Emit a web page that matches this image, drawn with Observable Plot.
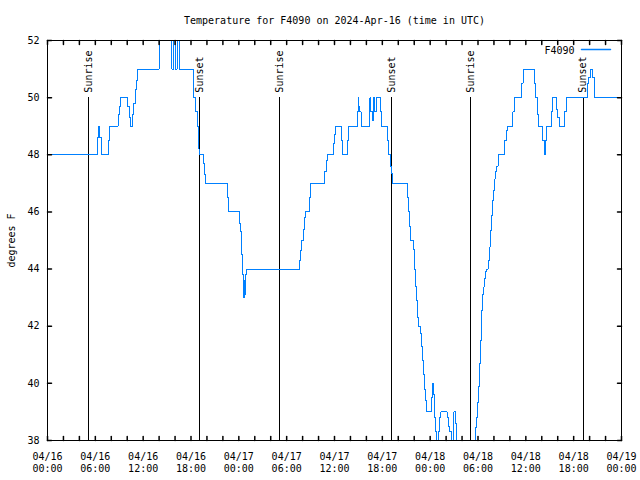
<!DOCTYPE html>
<html><head><meta charset="utf-8">
<script src="https://cdn.jsdelivr.net/npm/d3@7"></script>
<script src="https://cdn.jsdelivr.net/npm/@observablehq/plot@0.6"></script>
<style>body{margin:0;background:#fff} svg{display:block}</style>
</head><body><div id="chart"></div>
<script>
const title = "Temperature for F4090 on 2024-Apr-16 (time in UTC)";
const seriesName = "F4090";
const yLabel = "degrees F";
const startUTC = "2024-04-16T00:00:00Z";
const endUTC = "2024-04-19T00:00:00Z";

// hours since 2024-04-16 00:00 UTC, and temperature (F) from that time on
const hours = [0,6.30,6.42,6.55,6.72,7.60,7.72,8.85,9.00,9.20,10.06,10.25,10.45,10.65,10.85,11.00,11.15,11.27,14.02,14.15,15.60,15.80,16.05,16.25,16.50,18.30,18.60,18.85,19.00,19.10,19.57,19.75,19.87,22.60,22.75,24.10,24.21,24.33,24.46,24.55,24.65,24.75,24.85,24.95,31.64,31.77,31.89,32.06,32.22,32.35,32.85,32.97,34.73,34.94,35.10,35.86,36.00,36.12,36.90,37.00,37.60,37.75,38.86,38.95,39.05,39.15,39.35,40.45,40.57,40.78,40.90,41.07,41.28,41.74,41.90,42.60,42.75,43.00,43.15,43.30,45.12,45.29,45.41,45.54,45.87,46.00,46.12,46.29,46.41,46.54,46.79,46.87,47.00,47.12,47.25,47.37,47.54,48.17,48.25,48.40,48.55,48.70,48.80,49.00,49.20,49.34,50.13,50.34,50.46,50.67,50.88,50.96,51.18,51.30,53.68,53.80,53.93,54.05,54.14,54.26,54.39,54.51,54.64,54.76,54.89,55.01,55.26,55.39,55.51,55.64,55.76,55.89,56.01,56.14,56.31,56.52,57.35,57.56,57.68,58.39,58.60,59.44,59.65,61.10,61.27,61.44,61.57,62.15,62.32,62.44,62.57,63.19,63.36,63.82,64.03,64.24,64.86,65.07,67.79,67.91,68.05,68.30,68.60,72.00];
const tempsF = [48,48.6,49,48.6,48,48.5,49,49.4,49.7,50,49.7,49.3,49,49.4,49.8,50.3,50.6,51,52,53,51,53,51,53,51,50,49.5,49,48.2,48,47.7,47.3,47,46.5,46,45.6,45.3,44.5,43.8,43,43.6,43.1,43.8,44,44.3,44.65,45.0,45.4,45.8,46,46.5,47,47.4,47.8,48,48.4,48.7,49,48.5,48,48.5,49,49.5,50,49.7,49.5,49,50,49.5,49.2,50,49.5,50,49.5,49,48.5,48,47.6,47.35,47,46.5,46.0,45.5,45.0,44.7,44.0,43.4,42.9,42.3,42.0,41.75,41.3,40.8,40.3,39.8,39.4,39.0,39.5,40,39.6,38.8,38.3,37.5,38.3,38.8,39,38.8,38.5,38.3,37.5,38.5,39,38.6,37.5,38.47,38.8,39.34,39.9,40.7,41.5,42.55,43.1,43.37,43.67,43.9,44.0,44.3,44.77,45.35,45.87,46.4,46.75,47.15,47.4,47.6,48,48.5,48.85,49,49.5,50,50.5,51,50.5,50,49.4,49,48.5,48,48.5,49,49.5,50,49.6,49.3,49,49.5,50,50.5,50.7,51,50.7,50,50];

const sunHours = [5.18, 19.07, 29.09, 43.16, 53.10, 67.20];
const sunLabels = ["Sunrise", "Sunset", "Sunrise", "Sunset", "Sunrise", "Sunset"];
const sunLineTop = 50;

const yTicks = [38, 40, 42, 44, 46, 48, 50, 52];
const xLabelStepHours = 6;
const xTickStepHours = 2;

const t0 = Date.parse(startUTC);
const toDate = h => new Date(t0 + h * 3600000);
const start = new Date(startUTC), end = new Date(endUTC);

const series = hours.map((h, i) => ({t: toDate(h), v: tempsF[i]}));
const sun = sunHours.map((h, i) => ({t: toDate(h), label: sunLabels[i]}));
const xLabelTicks = d3.utcHour.every(xLabelStepHours).range(start, new Date(+end + 1));
const xMinorTicks = d3.utcHour.every(xTickStepHours).range(start, new Date(+end + 1));
const fmtDay = d3.utcFormat("%m/%d"), fmtTime = d3.utcFormat("%H:%M");

const tickShape = {draw(ctx, l) { ctx.moveTo(0, 0); ctx.lineTo(0, -l); }};
const lineColor = "#0080ff";
const tickLen = 4;

const chart = Plot.plot({
  width: 640, height: 480,
  marginLeft: 47, marginRight: 19, marginTop: 40, marginBottom: 40,
  style: {fontFamily: "'DejaVu Sans Mono', monospace", fontSize: "10px", background: "white", color: "black"},
  x: {type: "utc", domain: [start, end]},
  y: {domain: [38, 52]},
  marks: [
    Plot.ruleX(sun, {x: "t", y1: 38, y2: sunLineTop, stroke: "black", shapeRendering: "crispEdges"}),
    Plot.text(sun, {x: "t", y: sunLineTop, text: "label", rotate: -90, textAnchor: "start", lineAnchor: "middle", dy: -5, fill: "black"}),
    Plot.line(series, {x: "t", y: "v", curve: "step-after", stroke: lineColor, strokeWidth: 1, clip: true, shapeRendering: "crispEdges"}),
    Plot.frame({stroke: "black", shapeRendering: "crispEdges"}),
    Plot.vector(xMinorTicks, {x: d => d, frameAnchor: "bottom", length: tickLen, rotate: 0, anchor: "start", shape: tickShape, stroke: "black"}),
    Plot.vector(xMinorTicks, {x: d => d, frameAnchor: "top", length: tickLen, rotate: 180, anchor: "start", shape: tickShape, stroke: "black"}),
    Plot.vector(yTicks, {y: d => d, frameAnchor: "left", length: tickLen, rotate: 90, anchor: "start", shape: tickShape, stroke: "black"}),
    Plot.vector(yTicks, {y: d => d, frameAnchor: "right", length: tickLen, rotate: -90, anchor: "start", shape: tickShape, stroke: "black"}),
    Plot.axisX({anchor: "bottom", ticks: xLabelTicks, tickSize: 0, tickPadding: 10, lineHeight: 1.27, label: null,
      tickFormat: d => fmtDay(d) + "\n" + fmtTime(d)}),
    Plot.axisY({anchor: "left", ticks: yTicks, tickSize: 0, tickPadding: 8, label: null, tickFormat: d => String(d)}),
    Plot.text([yLabel], {frameAnchor: "left", rotate: -90, dx: -36, textAnchor: "middle", lineAnchor: "middle", fill: "black"}),
    Plot.text([title], {frameAnchor: "top", dy: -20, textAnchor: "middle", lineAnchor: "middle", fill: "black"}),
    Plot.text([seriesName], {frameAnchor: "top-right", dx: -47, dy: 10, textAnchor: "end", lineAnchor: "middle", fill: "black"}),
    Plot.vector([0], {frameAnchor: "top-right", dx: -11, dy: 9, length: 29, rotate: -90, anchor: "start", shape: tickShape, stroke: lineColor})
  ]
});
document.getElementById("chart").append(chart);
</script>
</body></html>
